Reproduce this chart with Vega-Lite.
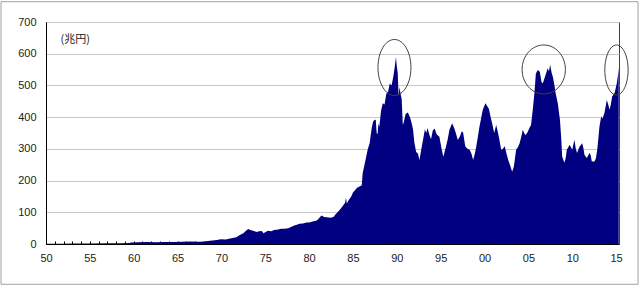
{
  "$schema": "https://vega.github.io/schema/vega-lite/v6.json",
  "width": 573,
  "height": 222,
  "autosize": {"type": "none"},
  "padding": {"left": 46, "top": 22, "right": 21, "bottom": 42},
  "background": "white",
  "config": {"view": {"stroke": "#404040", "strokeWidth": 1}, "font": "Liberation Sans"},
  "encoding": {
    "x": {
      "field": "t", "type": "quantitative",
      "scale": {"domain": [1950, 2015.33], "nice": false, "zero": false},
      "axis": {
        "title": null, "grid": false,
        "values": [1950,1951,1952,1953,1954,1955,1956,1957,1958,1959,1960,1961,1962,1963,1964,1965,1966,1967,1968,1969,1970,1971,1972,1973,1974,1975,1976,1977,1978,1979,1980,1981,1982,1983,1984,1985,1986,1987,1988,1989,1990,1991,1992,1993,1994,1995,1996,1997,1998,1999,2000,2001,2002,2003,2004,2005,2006,2007,2008,2009,2010,2011,2012,2013,2014,2015],
        "labelExpr": "datum.value % 5 == 0 ? ((datum.value % 100) < 10 ? '0' + (datum.value % 100) : '' + (datum.value % 100)) : ''",
        "tickSize": -3, "tickColor": "#000000", "tickWidth": 1,
        "domainColor": "#000000", "domainWidth": 1,
        "labelPadding": 11, "labelFontSize": 11, "labelColor": "#222222",
        "labelOverlap": false, "labelFlush": false
      }
    },
    "y": {
      "field": "v", "type": "quantitative",
      "scale": {"domain": [0, 700], "nice": false},
      "axis": {
        "title": null, "values": [0,100,200,300,400,500,600,700],
        "grid": true, "gridColor": "#c8c8c8", "gridWidth": 1,
        "tickSize": 0, "domainColor": "#000000", "domainWidth": 1,
        "labelPadding": 10, "labelFontSize": 11, "labelColor": "#222222",
        "labelOverlap": false
      }
    }
  },
  "layer": [
    {
      "data": {"values": [
        {"t":1950.0,"v":0.5},{"t":1952.0,"v":0.8},{"t":1953.0,"v":1.2},{"t":1955.0,"v":1.2},{"t":1957.0,"v":2},{"t":1958.5,"v":2.3},{"t":1959.5,"v":3},{"t":1959.7,"v":5},{"t":1960.5,"v":5.5},{"t":1961.5,"v":6},{"t":1962.5,"v":5.5},{"t":1963.5,"v":6.5},{"t":1964.5,"v":6},{"t":1965.5,"v":7},{"t":1966.5,"v":7.5},{"t":1967.5,"v":7},{"t":1968.0,"v":8},{"t":1968.7,"v":10},{"t":1969.5,"v":13},{"t":1969.9,"v":15},{"t":1970.5,"v":14},{"t":1971.0,"v":17},{"t":1971.7,"v":21},{"t":1972.1,"v":28},{"t":1972.5,"v":34},{"t":1972.8,"v":42},{"t":1973.05,"v":47},{"t":1973.3,"v":44},{"t":1973.6,"v":42},{"t":1974.0,"v":38},{"t":1974.3,"v":40},{"t":1974.6,"v":41},{"t":1974.8,"v":34},{"t":1975.0,"v":37},{"t":1975.3,"v":42},{"t":1975.7,"v":40},{"t":1976.0,"v":44},{"t":1976.5,"v":46},{"t":1976.8,"v":48},{"t":1977.2,"v":48},{"t":1977.6,"v":50},{"t":1978.0,"v":54},{"t":1978.3,"v":58},{"t":1978.6,"v":61},{"t":1978.9,"v":64},{"t":1979.3,"v":65},{"t":1979.7,"v":68},{"t":1980.0,"v":68},{"t":1980.4,"v":71},{"t":1980.8,"v":73},{"t":1981.0,"v":77},{"t":1981.3,"v":87},{"t":1981.45,"v":90},{"t":1981.7,"v":85},{"t":1982.0,"v":84},{"t":1982.5,"v":83},{"t":1982.8,"v":86},{"t":1983.0,"v":93},{"t":1983.5,"v":108},{"t":1983.9,"v":122},{"t":1984.1,"v":130},{"t":1984.2,"v":146},{"t":1984.3,"v":128},{"t":1984.5,"v":138},{"t":1984.8,"v":150},{"t":1985.0,"v":162},{"t":1985.3,"v":172},{"t":1985.5,"v":178},{"t":1985.75,"v":181},{"t":1986.0,"v":185},{"t":1986.1,"v":222},{"t":1986.3,"v":248},{"t":1986.5,"v":274},{"t":1986.7,"v":300},{"t":1986.9,"v":318},{"t":1987.0,"v":338},{"t":1987.15,"v":368},{"t":1987.3,"v":386},{"t":1987.45,"v":391},{"t":1987.6,"v":392},{"t":1987.7,"v":350},{"t":1987.8,"v":345},{"t":1987.9,"v":380},{"t":1988.0,"v":370},{"t":1988.2,"v":420},{"t":1988.4,"v":444},{"t":1988.6,"v":440},{"t":1988.8,"v":474},{"t":1989.0,"v":480},{"t":1989.2,"v":506},{"t":1989.4,"v":500},{"t":1989.6,"v":528},{"t":1989.75,"v":556},{"t":1989.9,"v":590},{"t":1990.0,"v":560},{"t":1990.1,"v":540},{"t":1990.2,"v":466},{"t":1990.3,"v":495},{"t":1990.45,"v":470},{"t":1990.55,"v":458},{"t":1990.68,"v":375},{"t":1990.8,"v":385},{"t":1991.0,"v":410},{"t":1991.25,"v":415},{"t":1991.5,"v":400},{"t":1991.7,"v":380},{"t":1991.85,"v":360},{"t":1992.0,"v":320},{"t":1992.2,"v":290},{"t":1992.4,"v":285},{"t":1992.58,"v":265},{"t":1992.8,"v":300},{"t":1993.0,"v":330},{"t":1993.2,"v":362},{"t":1993.35,"v":350},{"t":1993.5,"v":366},{"t":1993.7,"v":345},{"t":1993.9,"v":330},{"t":1994.1,"v":358},{"t":1994.3,"v":364},{"t":1994.55,"v":345},{"t":1994.85,"v":338},{"t":1995.1,"v":300},{"t":1995.3,"v":275},{"t":1995.6,"v":307},{"t":1995.8,"v":330},{"t":1996.0,"v":360},{"t":1996.3,"v":381},{"t":1996.55,"v":365},{"t":1996.75,"v":348},{"t":1996.95,"v":328},{"t":1997.2,"v":340},{"t":1997.4,"v":355},{"t":1997.55,"v":352},{"t":1997.8,"v":308},{"t":1998.05,"v":300},{"t":1998.3,"v":297},{"t":1998.5,"v":285},{"t":1998.7,"v":265},{"t":1998.9,"v":285},{"t":1999.05,"v":307},{"t":1999.25,"v":340},{"t":1999.42,"v":370},{"t":1999.6,"v":395},{"t":1999.8,"v":423},{"t":2000.1,"v":444},{"t":2000.3,"v":435},{"t":2000.5,"v":426},{"t":2000.7,"v":400},{"t":2000.87,"v":380},{"t":2001.1,"v":350},{"t":2001.33,"v":375},{"t":2001.5,"v":355},{"t":2001.65,"v":335},{"t":2001.9,"v":297},{"t":2002.1,"v":300},{"t":2002.3,"v":308},{"t":2002.5,"v":285},{"t":2002.7,"v":265},{"t":2002.95,"v":245},{"t":2003.15,"v":228},{"t":2003.35,"v":245},{"t":2003.6,"v":297},{"t":2003.8,"v":305},{"t":2004.0,"v":318},{"t":2004.2,"v":340},{"t":2004.36,"v":360},{"t":2004.55,"v":348},{"t":2004.7,"v":344},{"t":2004.9,"v":352},{"t":2005.1,"v":365},{"t":2005.3,"v":375},{"t":2005.5,"v":423},{"t":2005.7,"v":480},{"t":2005.85,"v":538},{"t":2006.07,"v":549},{"t":2006.3,"v":543},{"t":2006.5,"v":510},{"t":2006.65,"v":507},{"t":2006.9,"v":528},{"t":2007.2,"v":554},{"t":2007.35,"v":545},{"t":2007.48,"v":565},{"t":2007.65,"v":540},{"t":2007.8,"v":526},{"t":2008.0,"v":495},{"t":2008.1,"v":476},{"t":2008.35,"v":444},{"t":2008.6,"v":391},{"t":2008.75,"v":330},{"t":2008.85,"v":276},{"t":2009.1,"v":256},{"t":2009.25,"v":270},{"t":2009.38,"v":297},{"t":2009.55,"v":305},{"t":2009.7,"v":313},{"t":2010.0,"v":297},{"t":2010.25,"v":329},{"t":2010.4,"v":300},{"t":2010.55,"v":287},{"t":2010.82,"v":307},{"t":2011.13,"v":318},{"t":2011.25,"v":305},{"t":2011.4,"v":281},{"t":2011.66,"v":271},{"t":2011.97,"v":287},{"t":2012.1,"v":280},{"t":2012.23,"v":260},{"t":2012.54,"v":260},{"t":2012.7,"v":270},{"t":2012.85,"v":297},{"t":2013.0,"v":340},{"t":2013.1,"v":370},{"t":2013.3,"v":402},{"t":2013.45,"v":395},{"t":2013.67,"v":413},{"t":2013.94,"v":454},{"t":2014.1,"v":440},{"t":2014.25,"v":423},{"t":2014.4,"v":440},{"t":2014.55,"v":465},{"t":2014.82,"v":476},{"t":2014.95,"v":490},{"t":2015.08,"v":507},{"t":2015.2,"v":530},{"t":2015.3,"v":556}
      ]},
      "mark": {"type": "area", "color": "#000080", "clip": true}
    },
    {
      "data": {"values": [{"t": 1944.87, "v": 764, "t2": 2017.5, "v2": -127}]},
      "mark": {"type": "rect", "fillOpacity": 0, "stroke": "#a0a0a0", "strokeWidth": 1, "clip": false},
      "encoding": {"x2": {"field": "t2"}, "y2": {"field": "v2"}}
    },
    {
      "data": {"values": [{"t": 1989.73, "v": 556.6}]},
      "mark": {"type": "point", "filled": false, "stroke": "#404040", "strokeWidth": 1, "opacity": 1, "clip": false, "size": 3136,
        "shape": "M -0.589 0 A 0.589 1 0 1 0 0.589 0 A 0.589 1 0 1 0 -0.589 0 Z"}
    },
    {
      "data": {"values": [{"t": 2006.75, "v": 550.3}]},
      "mark": {"type": "point", "filled": false, "stroke": "#404040", "strokeWidth": 1, "opacity": 1, "clip": false, "size": 2401,
        "shape": "M -0.884 0 A 0.884 1 0 1 0 0.884 0 A 0.884 1 0 1 0 -0.884 0 Z"}
    },
    {
      "data": {"values": [{"t": 2015.04, "v": 548.7}]},
      "mark": {"type": "point", "filled": false, "stroke": "#404040", "strokeWidth": 1, "opacity": 1, "clip": false, "size": 2500,
        "shape": "M -0.466 0 A 0.466 1 0 1 0 0.466 0 A 0.466 1 0 1 0 -0.466 0 Z"}
    },
    {
      "data": {"values": [{"t": 1951.65, "v": 643, "label": "(兆円)"}]},
      "mark": {"type": "text", "align": "left", "baseline": "middle", "font": "Noto Sans CJK JP", "fontSize": 11, "color": "#222222", "clip": false},
      "encoding": {"text": {"field": "label"}}
    }
  ]
}
